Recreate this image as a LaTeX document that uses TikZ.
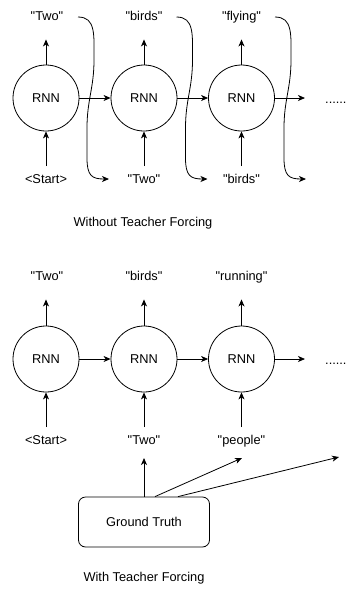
\documentclass[tikz,border=0pt]{standalone}
\usepackage{fontspec}
\newfontfamily\labfont{Liberation Sans}
\usetikzlibrary{arrows.meta}
\begin{document}
\begin{tikzpicture}[x=1pt,y=-1pt,
  every node/.style={font=\labfont\fontsize{12.8}{15}\selectfont, inner sep=0pt},
  rnn/.style={draw, circle, minimum size=66pt, line width=0.8pt},
  lbl/.style={text height=9.5pt, text depth=3pt},
  arr/.style={-{Stealth[length=7pt,width=6pt,inset=2pt]}, line width=0.8pt},
  wave/.style={arr},
  gtbox/.style={draw, rounded corners=7pt, minimum width=131pt, minimum height=50pt, line width=0.8pt}
]
\useasboundingbox (0,0) rectangle (348,590);

% ---------- Without teacher forcing ----------
\node[rnn] (a1) at (46,98) {RNN};
\node[rnn] (a2) at (144,98) {RNN};
\node[rnn] (a3) at (241.5,98) {RNN};
\node[lbl] (ao1) at (47,17) {"Two"};
\node[lbl] (ao2) at (144,17) {"birds"};
\node[lbl] (ao3) at (241.5,17) {"flying"};
\node[lbl] (ai1) at (46,180) {<Start>};
\node[lbl] (ai2) at (144,180) {"Two"};
\node[lbl] (ai3) at (241.5,180) {"birds"};
\node[lbl, anchor=west] (ad) at (325,100) {......};
\coordinate (ae) at (305,98);

\foreach \i in {1,2,3} {
  \draw[arr, shorten >=16pt] (a\i.north) -- (a\i.north |- ao\i.south);
  \draw[arr, shorten <=7.5pt] (ai\i.north) -- (a\i.south);
}
\draw[arr] (a1) -- (a2);
\draw[arr] (a2) -- (a3);
\draw[arr] (a3.east) -- (ae);

\foreach \s/\n in {0/1, 98.5/2, 197/3} {
  \begin{scope}[xshift=\s pt]
    \coordinate (w\n s) at (78,17);
    \coordinate (w\n e) at (109,179);
    \draw[wave] (w\n s) .. controls (96,17) and (94,35) .. (94,60)
      .. controls (94,88) and (87,100) .. (87,128) -- (87,158)
      .. controls (87,176) and (92,179) .. (w\n e);
  \end{scope}
}

\node (t1) at (143,223) {Without Teacher Forcing};

% ---------- With teacher forcing ----------
\node[rnn] (b1) at (46,359) {RNN};
\node[rnn] (b2) at (144,359) {RNN};
\node[rnn] (b3) at (241.5,359) {RNN};
\node[lbl] (bo1) at (47,277) {"Two"};
\node[lbl] (bo2) at (144,277) {"birds"};
\node[lbl] (bo3) at (241.5,277) {"running"};
\node[lbl] (bi1) at (46,441) {<Start>};
\node[lbl] (bi2) at (144,441) {"Two"};
\node[lbl] (bi3) at (241.5,441) {"people"};
\node[lbl, anchor=west] (bd) at (325,361) {......};
\coordinate (be) at (305,359);

\foreach \i in {1,2,3} {
  \draw[arr, shorten >=16pt] (b\i.north) -- (b\i.north |- bo\i.south);
  \draw[arr, shorten <=7.5pt] (bi\i.north) -- (b\i.south);
}
\draw[arr] (b1) -- (b2);
\draw[arr] (b2) -- (b3);
\draw[arr] (b3.east) -- (be);

\node[gtbox] (gt) at (144,522) {Ground Truth};
\coordinate (g1) at (144,458);
\coordinate (g2) at (242,458);
\coordinate (g3) at (339,457);
\draw[arr] (gt.north) -- (g1);
\draw[arr] ([xshift=11pt]gt.north) -- (g2);
\draw[arr] ([xshift=34pt]gt.north) -- (g3);

\node (t2) at (144,578) {With Teacher Forcing};
\end{tikzpicture}
\end{document}
